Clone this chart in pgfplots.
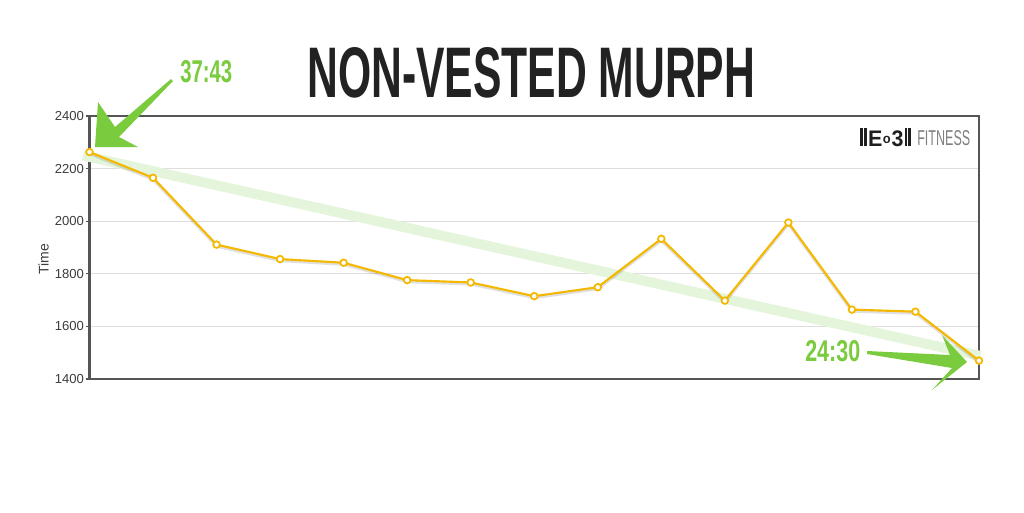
\documentclass[border=0pt]{standalone}
\usepackage{fontspec}
\setmainfont{Liberation Sans}
\usepackage{graphicx}
\usepackage{pgfplots}
\usepackage{pgfplotstable}
\pgfplotsset{compat=1.18}

\definecolor{gold}{RGB}{244,184,0}
\definecolor{eogreen}{RGB}{122,203,62}
\definecolor{bandgreen}{RGB}{229,245,219}
\definecolor{framegray}{RGB}{85,85,85}
\definecolor{gridgray}{RGB}{222,222,222}
\definecolor{labelgray}{RGB}{60,60,60}
\definecolor{titlegray}{RGB}{34,34,34}

% seconds per attempt
\pgfplotstableread{
idx time
0  2263
1  2165
2  1911
3  1856
4  1842
5  1776
6  1767
7  1715
8  1749
9  1933
10 1698
11 1995
12 1664
13 1656
14 1470
}\murph

\newcommand{\bbar}{\rule{0.13em}{0.8em}\kern0.05em}

\begin{document}
\begin{tikzpicture}
% page = 1024x512 px at 0.75pt per px, origin at the axis' lower left corner
\useasboundingbox (-67.125pt,-99.75pt) rectangle (700.875pt,284.25pt);

\begin{axis}[
    scale only axis,
    width=667.125pt, height=197.25pt,
    xmin=0, xmax=14, ymin=1400, ymax=2400,
    xtick=\empty,
    ytick={1400,1600,...,2400},
    ymajorgrids,
    grid style={gridgray, line width=0.75pt},
    axis line style={framegray, line width=1.6pt},
    tick align=outside, ytick pos=left,
    major tick length=3pt,
    tick style={framegray, line width=1pt},
    yticklabel style={font=\fontsize{9.8}{10}\selectfont, text=labelgray, inner sep=1pt},
    /pgf/number format/assume math mode=true,
    /pgf/number format/1000 sep={},
    ylabel=Time,
    ylabel style={font=\fontsize{10.5}{11}\selectfont, text=labelgray, at={(ticklabel cs:0.456)}},
    clip=false,
]
% trend band
\addplot[bandgreen, line width=7.5pt, forget plot] coordinates {(-0.1,2250) (14.02,1488)};
% soft shadow
\addplot[black, opacity=0.12, line width=2pt, yshift=-1.3pt, forget plot] table[x=idx, y=time] {\murph};
\addplot[gold, line width=1.6pt, mark=*, mark size=2.5pt,
         mark options={fill=white, draw=gold, line width=1.3pt}] table[x=idx, y=time] {\murph};
\end{axis}

\begin{scope}[x=0.75pt, y=-0.75pt, shift={(-67.125pt,284.25pt)}]
  % title
  \node[anchor=north west, inner sep=0, text=titlegray] at (307,47)
    {\resizebox{336pt}{37.5pt}{\bfseries NON-VESTED MURPH}};
  % logo
  \node[anchor=north west, inner sep=0, text=black!88] at (860,128)
    {\resizebox{39pt}{13.5pt}{\bfseries\bbar\bbar E\kern0.03em\raisebox{0.12em}{\scalebox{0.6}{o}}\kern0.03em 3\kern0.05em\bbar\bbar}};
  \node[anchor=north west, inner sep=0, text=black!50] at (917,130)
    {\resizebox{39.75pt}{11.25pt}{FITNESS}};
  % start annotation
  \node[anchor=north west, inner sep=0, text=eogreen] at (180,60)
    {\resizebox{39pt}{16.5pt}{\bfseries 37:43}};
  \fill[eogreen] (171,79) -- (115,127) -- (98,102) -- (95,147) -- (138,147) -- (119,137) -- (173,81) -- cycle;
  % end annotation
  \node[anchor=north west, inner sep=0, text=eogreen] at (805,340)
    {\resizebox{41.25pt}{15.75pt}{\bfseries 24:30}};
  \fill[eogreen] (867,351) -- (950,355) -- (942,335) -- (967,362) -- (932,390) -- (952,368) -- (867,354) -- cycle;
\end{scope}
\end{tikzpicture}
\end{document}
